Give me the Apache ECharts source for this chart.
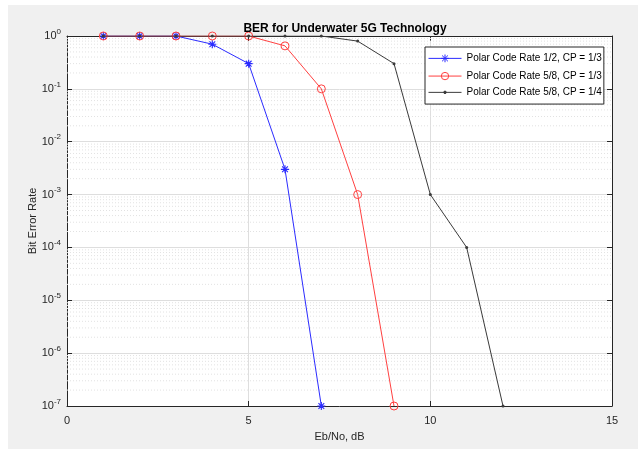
<!DOCTYPE html>
<html>
<head>
<meta charset="utf-8">
<script src="https://cdn.jsdelivr.net/npm/echarts@6/dist/echarts.min.js"></script>
<style>html,body{margin:0;padding:0;background:#fff}#c{width:638px;height:449px}</style>
</head>
<body>
<div id="c"></div>
<script>
var titleText = 'BER for Underwater 5G Technology';
var xName = 'Eb/No, dB';
var yName = 'Bit Error Rate';
var seriesNames = ['Polar Code Rate 1/2, CP = 1/3', 'Polar Code Rate 5/8, CP = 1/3', 'Polar Code Rate 5/8, CP = 1/4'];
var ebnoBlue = [1, 2, 3, 4, 5, 6, 7];
var berBlue = [1, 1, 1, 0.7, 0.3, 0.003, 1e-7];
var ebnoRed = [1, 2, 3, 4, 5, 6, 7, 8, 9];
var berRed = [1, 1, 1, 1, 1, 0.65, 0.1, 0.001, 1e-7];
var ebnoBlack = [1, 2, 3, 4, 5, 6, 7, 8, 9, 10, 11, 12];
var berBlack = [1, 1, 1, 1, 1, 1, 1, 0.8, 0.3, 0.001, 1e-4, 1e-7];
var xRange = [0, 15];
var yRange = [1e-7, 1];

function pairs(xs, ys) { return xs.map(function (x, i) { return [x, ys[i]]; }); }

var FONT = 'Liberation Sans, Arial, sans-serif';
var AX = '#262626';
var BLUE = '#2b2bff', RED = '#ff4040', BLACK = '#3a3a3a';

var minorSeries = [];
for (var e = -7; e < 0; e++) {
  for (var m = 2; m <= 9; m++) {
    var v = m * Math.pow(10, e);
    minorSeries.push({
      type: 'line', silent: true, symbol: 'none', z: 1,
      data: [[xRange[0], v], [xRange[1], v]],
      lineStyle: { color: '#e2e2e2', width: 1, type: [1, 2] }
    });
  }
}

var chart = echarts.init(document.getElementById('c'), null, { renderer: 'canvas' });
var grid = { left: 67, right: 26, top: 36, bottom: 43, show: true, backgroundColor: '#ffffff', borderWidth: 0 };
var asterisk = 'path://M0,-5L0,5M-5,0L5,0M-3.6,-3.6L3.6,3.6M-3.6,3.6L3.6,-3.6';

function yAx(pos, labels) {
  return {
    type: 'log', logBase: 10, min: yRange[0], max: yRange[1], position: pos,
    axisLine: { show: true, onZero: false, lineStyle: { color: AX, width: 1 } },
    axisTick: { show: true, inside: true, length: 5, lineStyle: { color: AX } },
    splitLine: { show: labels, lineStyle: { color: '#dedede', width: 1 } },
    minorTick: { show: false },
    axisLabel: labels ? {
      show: true, margin: 6, color: AX, fontFamily: FONT,
      formatter: function (v) { var ex = Math.round(Math.log10(v)); return '{b|10}{s|' + ex + '}'; },
      rich: { b: { fontSize: 11, fontFamily: FONT, color: AX }, s: { fontSize: 8, fontFamily: FONT, color: AX, padding: [0, 0, 9, 0] } }
    } : { show: false },
    name: labels ? yName : '', nameLocation: 'middle', nameGap: 29, nameMoveOverlap: false,
    nameTextStyle: { fontSize: 11, fontFamily: FONT, color: AX }
  };
}
function xAx(pos, labels) {
  return {
    type: 'value', min: xRange[0], max: xRange[1], interval: 5, position: pos,
    axisLine: { show: true, onZero: false, lineStyle: { color: AX, width: 1 } },
    axisTick: { show: true, inside: true, length: 5, lineStyle: { color: AX } },
    splitLine: { show: labels, lineStyle: { color: '#dedede', width: 1 } },
    axisLabel: labels ? { show: true, margin: 9, color: AX, fontSize: 11, fontFamily: FONT } : { show: false },
    name: labels ? xName : '', nameLocation: 'middle', nameGap: 25, nameMoveOverlap: false,
    nameTextStyle: { fontSize: 11, fontFamily: FONT, color: AX }
  };
}

var legendIcons = [
  'path://M-17,0L17,0M0,-4L0,4M-4,0L4,0M-3,-3L3,3M-3,3L3,-3',
  'path://M-17,0L17,0M3.8,0A3.8,3.8 0 1 1 -3.8,0A3.8,3.8 0 1 1 3.8,0M0,-4L0,-4M0,4L0,4',
  'path://M-17,0L17,0M1.3,0A1.3,1.3 0 1 1 -1.3,0A1.3,1.3 0 1 1 1.3,0M0,-4L0,-4M0,4L0,4'
];
var legendFill = ['none', 'rgba(0,0,0,0)', BLACK];
var legendStroke = [BLUE, RED, BLACK];

chart.setOption({
  backgroundColor: '#ffffff',
  animation: false,
  graphic: [{ type: 'rect', z: -10, silent: true, shape: { x: 8, y: 5, width: 630, height: 444 }, style: { fill: '#f0f0f0' } }],
  title: { text: titleText, left: 340, top: 18, textAlign: 'center', textStyle: { fontSize: 12, fontWeight: 'bold', fontFamily: FONT, color: '#000' } },
  grid: grid,
  legend: {
    orient: 'vertical', left: 425, top: 47, itemWidth: 33, itemHeight: 8, itemGap: 6.3,
    padding: [5, 2, 6.7, 1], backgroundColor: '#ffffff', borderColor: '#262626', borderWidth: 1,
    textStyle: { fontSize: 10, fontFamily: FONT, color: '#000' },
    data: seriesNames.map(function (n, i) {
      return {
        name: n, icon: legendIcons[i],
        itemStyle: { color: legendFill[i], borderColor: legendStroke[i], borderWidth: 1 },
        lineStyle: { color: legendStroke[i], width: 1 }
      };
    })
  },
  xAxis: [xAx('bottom', true), xAx('top', false)],
  yAxis: [yAx('left', true), yAx('right', false)],
  series: minorSeries.concat([
    {
      name: seriesNames[0], type: 'line', data: pairs(ebnoBlue, berBlue), color: BLUE, z: 3,
      lineStyle: { width: 1, color: BLUE }, symbol: asterisk, symbolSize: 8,
      itemStyle: { color: BLUE, borderColor: BLUE, borderWidth: 1.1 }
    },
    {
      name: seriesNames[1], type: 'line', data: pairs(ebnoRed, berRed), color: RED, z: 4,
      lineStyle: { width: 1, color: RED }, symbol: 'circle', symbolSize: 8,
      itemStyle: { color: 'rgba(0,0,0,0)', borderColor: RED, borderWidth: 1 }
    },
    {
      name: seriesNames[2], type: 'line', data: pairs(ebnoBlack, berBlack), color: BLACK, z: 5,
      lineStyle: { width: 1, color: BLACK }, symbol: 'circle', symbolSize: 3,
      itemStyle: { color: BLACK }
    }
  ])
});
</script>
</body>
</html>
